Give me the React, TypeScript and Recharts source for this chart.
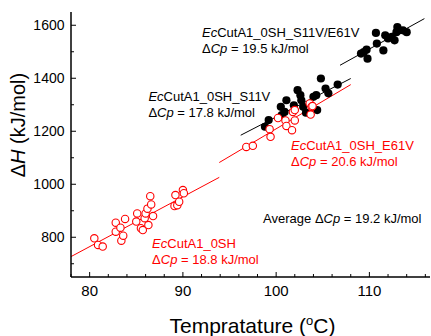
import React from 'react';
import {
  ComposedChart,
  Scatter,
  XAxis,
  YAxis,
  ReferenceLine,
  ReferenceDot,
} from 'recharts';

// EcCutA1_0SH (red open circles)
const wtTemp = [80.5, 80.9, 81.4, 82.8, 82.8, 83.3, 83.4, 83.6, 83.8, 85.0, 85.1, 85.5, 85.7, 85.9, 86.0, 86.2, 86.3, 86.5, 86.6, 86.8, 89.1, 89.2, 89.4, 89.6, 90.0, 90.1];
const wtDH = [796, 771, 765, 855, 821, 836, 787, 806, 869, 859, 890, 834, 827, 872, 890, 908, 846, 955, 924, 880, 918, 959, 921, 934, 978, 966];

// EcCutA1_0SH_E61V (red open circles)
const e61vTemp = [96.8, 97.5, 99.3, 99.4, 100.2, 101.0, 101.1, 101.7, 101.8, 102.0, 102.0, 103.6, 103.7, 103.8, 103.9];
const e61vDH = [1141, 1145, 1208, 1179, 1250, 1241, 1220, 1204, 1273, 1241, 1280, 1305, 1263, 1292, 1295];

// EcCutA1_0SH_S11V (black dots)
const s11vTemp = [98.8, 99.2, 100.5, 100.6, 100.9, 101.1, 101.9, 102.3, 102.6, 102.7, 102.9, 103.2, 104.0, 104.3, 104.4, 104.8, 105.3, 105.6, 106.6];
const s11vDH = [1217, 1242, 1292, 1261, 1273, 1317, 1298, 1355, 1336, 1317, 1292, 1270, 1330, 1336, 1280, 1399, 1361, 1343, 1376];

// EcCutA1_0SH_S11V/E61V (black dots)
const dblTemp = [109.1, 109.4, 109.7, 109.8, 110.7, 110.8, 111.5, 111.7, 112.0, 112.4, 112.7, 112.9, 113.0, 113.2, 113.6, 114.0];
const dblDH = [1493, 1499, 1508, 1474, 1571, 1531, 1505, 1562, 1550, 1556, 1543, 1574, 1593, 1581, 1581, 1574];

// fit line end points [x1, y1, x2, y2]
const fitWt = [78.0, 727, 93.9, 1026];
const fitE61V = [93.9, 1082, 108.0, 1376];
const fitS11V = [96.2, 1185, 108.0, 1399];
const fitDbl = [106.85, 1449, 115.9, 1625];

const xTicks = [78, 80, 82, 84, 86, 88, 90, 92, 94, 96, 98, 100, 102, 104, 106, 108, 110, 112, 114, 116];
const yTicks = [700, 800, 900, 1000, 1100, 1200, 1300, 1400, 1500, 1600];

const toPts = (xs: number[], ys: number[]) => xs.map((x, i) => ({ x, y: ys[i] }));

const FONT = '"Liberation Sans", Arial, sans-serif';
const RED = '#ff0000';

const isMajorX = (v: number) => v % 10 === 0;
const isMajorY = (v: number) => v % 200 === 0;

const BottomTick = ({ x, y, payload }: any) => {
  const major = isMajorX(payload.value);
  return (
    <g>
      <line x1={x} y1={y} x2={x} y2={y - (major ? 5 : 3)} stroke="#000" strokeWidth={1} />
      {major && (
        <text x={x} y={y + 18.5} textAnchor="middle" fontSize={15} fontFamily={FONT} fill="#000">
          {payload.value}
        </text>
      )}
    </g>
  );
};

const TopTick = ({ x, y, payload }: any) => {
  const major = isMajorX(payload.value);
  return <line x1={x} y1={y} x2={x} y2={y + (major ? 5 : 3)} stroke="#000" strokeWidth={1} />;
};

const LeftTick = ({ x, y, payload }: any) => {
  const major = isMajorY(payload.value);
  return (
    <g>
      <line x1={x} y1={y} x2={x + (major ? 5 : 3)} y2={y} stroke="#000" strokeWidth={1} />
      {major && (
        <text x={x - 6.5} y={y + 5} textAnchor="end" fontSize={14} fontFamily={FONT} fill="#000">
          {payload.value}
        </text>
      )}
    </g>
  );
};

const RightTick = ({ x, y, payload }: any) => {
  const major = isMajorY(payload.value);
  return <line x1={x} y1={y} x2={x - (major ? 5 : 3)} y2={y} stroke="#000" strokeWidth={1} />;
};

const OpenCircle = (p: any) => (
  <circle cx={p.cx} cy={p.cy} r={3.7} fill="#fff" stroke={RED} strokeWidth={1.1} />
);
const FilledDot = (p: any) => <circle cx={p.cx} cy={p.cy} r={4.1} fill="#000" />;

// annotation text block: first line name, second line ΔCp
const note = (name: string, cp: string, color: string) => (p: any) => (
  <text fontSize={13} fontFamily={FONT} fill={color}>
    <tspan x={p.cx} y={p.cy}>
      <tspan fontStyle="italic">Ec</tspan>
      {name}
    </tspan>
    <tspan x={p.cx} dy={16}>
      {'\u0394'}
      <tspan fontStyle="italic">Cp</tspan>
      {' = ' + cp + ' kJ/mol'}
    </tspan>
  </text>
);

const avgNote = (p: any) => (
  <text x={p.cx} y={p.cy} fontSize={13} fontFamily={FONT} fill="#000">
    {'Average \u0394'}
    <tspan fontStyle="italic">Cp</tspan>
    {' = 19.2 kJ/mol'}
  </text>
);

const XTitle = ({ viewBox }: any) => (
  <text
    x={viewBox.x + viewBox.width / 2 + 2}
    y={viewBox.y + 56}
    textAnchor="middle"
    fontSize={21}
    fontFamily={FONT}
    fill="#000"
  >
    Tempratature (
    <tspan dy={-8} fontSize={13}>o</tspan>
    <tspan dy={8}>C)</tspan>
  </text>
);

const YTitle = ({ viewBox }: any) => {
  const cx = 25;
  const cy = viewBox.y + 113;
  return (
    <text
      x={cx}
      y={cy}
      transform={`rotate(-90 ${cx} ${cy})`}
      textAnchor="middle"
      fontSize={20}
      fontFamily={FONT}
      fill="#000"
    >
      {'\u0394'}
      <tspan fontStyle="italic">H</tspan>
      {' (kJ/mol)'}
    </text>
  );
};

const seg = (f: number[]) => [
  { x: f[0], y: f[1] },
  { x: f[2], y: f[3] },
];

export default function App() {
  const X_DOMAIN = [78, 116.5];
  const Y_DOMAIN = [650, 1650];
  return (
    <div style={{ position: 'absolute', left: 0, top: 0, background: '#fff' }}>
      <ComposedChart width={431} height={336} margin={{ top: 12, right: 1, bottom: 0, left: 0 }}>
        <XAxis
          xAxisId="b"
          type="number"
          dataKey="x"
          domain={X_DOMAIN}
          allowDataOverflow
          ticks={xTicks}
          interval={0}
          orientation="bottom"
          height={59}
          tickSize={0}
          tickMargin={0}
          tickLine={false}
          axisLine={{ stroke: '#000', strokeWidth: 1.5 }}
          tick={<BottomTick />}
          label={<XTitle />}
        />
        <XAxis
          xAxisId="t"
          type="number"
          dataKey="x"
          domain={X_DOMAIN}
          allowDataOverflow
          ticks={xTicks}
          interval={0}
          orientation="top"
          height={0}
          tickSize={0}
          tickMargin={0}
          tickLine={false}
          axisLine={{ stroke: '#000', strokeWidth: 1.5 }}
          tick={<TopTick />}
        />
        <YAxis
          yAxisId="l"
          type="number"
          dataKey="y"
          domain={Y_DOMAIN}
          allowDataOverflow
          ticks={yTicks}
          interval={0}
          orientation="left"
          width={71}
          tickSize={0}
          tickMargin={0}
          tickLine={false}
          axisLine={{ stroke: '#000', strokeWidth: 1.5 }}
          tick={<LeftTick />}
          label={<YTitle />}
        />
        <YAxis
          yAxisId="r"
          type="number"
          dataKey="y"
          domain={Y_DOMAIN}
          allowDataOverflow
          ticks={yTicks}
          interval={0}
          orientation="right"
          width={0}
          tickSize={0}
          tickMargin={0}
          tickLine={false}
          axisLine={{ stroke: '#000', strokeWidth: 1.5 }}
          tick={<RightTick />}
        />

        <ReferenceLine xAxisId="b" yAxisId="l" segment={seg(fitWt)} stroke={RED} strokeWidth={1} ifOverflow="visible" />
        <ReferenceLine xAxisId="b" yAxisId="l" segment={seg(fitE61V)} stroke={RED} strokeWidth={1} ifOverflow="visible" />
        <ReferenceLine xAxisId="b" yAxisId="l" segment={seg(fitS11V)} stroke="#000" strokeWidth={1} ifOverflow="visible" />
        <ReferenceLine xAxisId="b" yAxisId="l" segment={seg(fitDbl)} stroke="#000" strokeWidth={1} ifOverflow="visible" />

        <Scatter xAxisId="b" yAxisId="l" data={toPts(s11vTemp, s11vDH)} shape={FilledDot} isAnimationActive={false} />
        <Scatter xAxisId="b" yAxisId="l" data={toPts(dblTemp, dblDH)} shape={FilledDot} isAnimationActive={false} />
        <Scatter xAxisId="b" yAxisId="l" data={toPts(wtTemp, wtDH)} shape={OpenCircle} isAnimationActive={false} />
        <Scatter xAxisId="b" yAxisId="l" data={toPts(e61vTemp, e61vDH)} shape={OpenCircle} isAnimationActive={false} />

        <ReferenceDot xAxisId="b" yAxisId="l" x={92.05} y={1556} r={0} shape={note('CutA1_0SH_S11V/E61V', '19.5', '#000')} />
        <ReferenceDot xAxisId="b" yAxisId="l" x={86.3} y={1314} r={0} shape={note('CutA1_0SH_S11V', '17.8', '#000')} />
        <ReferenceDot xAxisId="b" yAxisId="l" x={101.6} y={1129} r={0} shape={note('CutA1_0SH_E61V', '20.6', RED)} />
        <ReferenceDot xAxisId="b" yAxisId="l" x={98.6} y={855} r={0} shape={avgNote} />
        <ReferenceDot xAxisId="b" yAxisId="l" x={86.7} y={759} r={0} shape={note('CutA1_0SH', '18.8', RED)} />
      </ComposedChart>
    </div>
  );
}
